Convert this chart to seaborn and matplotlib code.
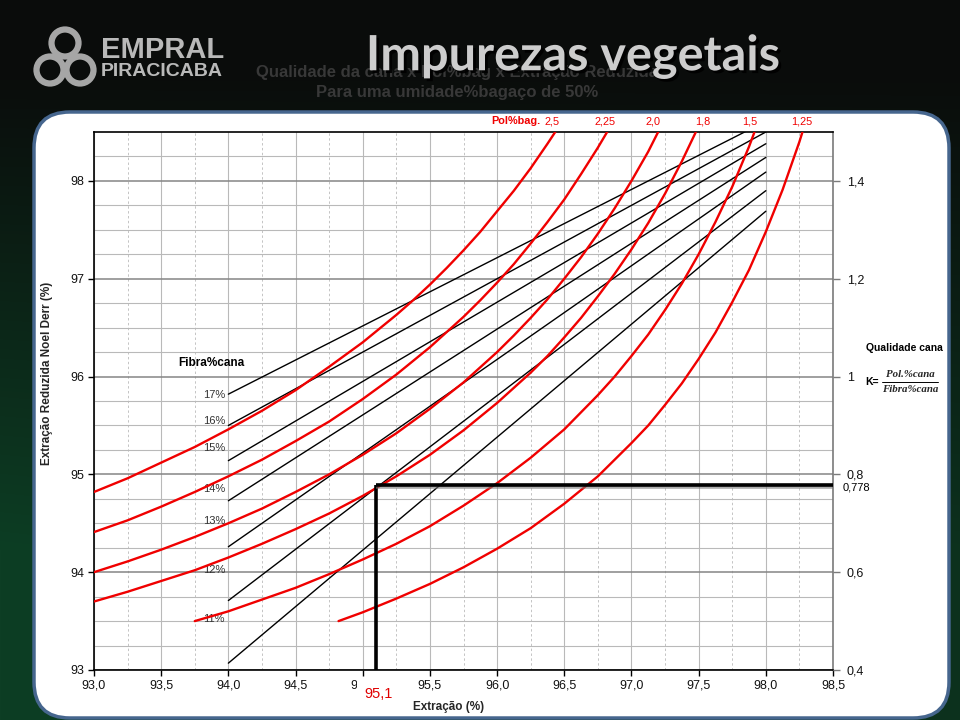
import numpy as np
import pandas as pd
import matplotlib
matplotlib.use('Agg')
import matplotlib.pyplot as plt
import matplotlib.patheffects as pe
from matplotlib.patches import FancyBboxPatch, Circle
import seaborn as sns

# ---- values ----
# red curves: constant Pol%bagaço, x = Extração (%), y = Extração reduzida (%)
pol_labels = ['2,5', '2,25', '2,0', '1,8', '1,5', '1,25']
pol_label_x = [96.41, 96.80, 97.16, 97.53, 97.88, 98.27]

red_x_25 = [93.0, 93.25, 93.5, 93.75, 94.0, 94.25, 94.5, 94.75, 95.0, 95.25, 95.375, 95.5, 95.625,
            95.75, 95.875, 96.0, 96.125, 96.25, 96.375, 96.5]
red_y_25 = [94.82, 94.96, 95.12, 95.28, 95.46, 95.65, 95.86, 96.10, 96.35, 96.63, 96.78, 96.94, 97.11,
            97.29, 97.48, 97.69, 97.90, 98.13, 98.38, 98.64]

red_x_225 = [93.0, 93.25, 93.5, 93.75, 94.0, 94.25, 94.5, 94.75, 95.0, 95.25, 95.5, 95.75, 95.875,
             96.0, 96.125, 96.25, 96.375, 96.5, 96.625, 96.75, 96.875]
red_y_225 = [94.41, 94.53, 94.67, 94.82, 94.98, 95.15, 95.34, 95.54, 95.77, 96.02, 96.30, 96.61, 96.78,
             96.96, 97.15, 97.36, 97.58, 97.81, 98.07, 98.34, 98.63]

red_x_20 = [93.0, 93.25, 93.5, 93.75, 94.0, 94.25, 94.5, 94.75, 95.0, 95.25, 95.5, 95.75, 96.0,
            96.125, 96.25, 96.375, 96.5, 96.625, 96.75, 96.875, 97.0, 97.125, 97.25]
red_y_20 = [94.00, 94.11, 94.23, 94.36, 94.50, 94.65, 94.82, 95.00, 95.20, 95.42, 95.67, 95.94, 96.25,
            96.42, 96.60, 96.79, 97.00, 97.22, 97.46, 97.72, 98.00, 98.30, 98.64]

red_x_18 = [93.0, 93.25, 93.5, 93.75, 94.0, 94.25, 94.5, 94.75, 95.0, 95.25, 95.5, 95.75, 96.0, 96.25,
            96.375, 96.5, 96.625, 96.75, 96.875, 97.0, 97.125, 97.25, 97.375, 97.5]
red_y_18 = [93.70, 93.80, 93.91, 94.02, 94.15, 94.29, 94.44, 94.60, 94.78, 94.98, 95.20, 95.45, 95.73, 96.04,
            96.21, 96.40, 96.60, 96.82, 97.05, 97.30, 97.57, 97.87, 98.20, 98.56]

red_x_15 = [93.75, 94.0, 94.25, 94.5, 94.75, 95.0, 95.25, 95.5, 95.75, 96.0, 96.25, 96.5, 96.75,
            96.875, 97.0, 97.125, 97.25, 97.375, 97.5, 97.625, 97.75, 97.875, 98.0]
red_y_15 = [93.50, 93.60, 93.72, 93.84, 93.98, 94.13, 94.29, 94.47, 94.68, 94.91, 95.17, 95.46, 95.81,
            96.00, 96.21, 96.43, 96.68, 96.95, 97.25, 97.58, 97.94, 98.35, 98.81]

red_x_125 = [94.82, 95.0, 95.25, 95.5, 95.75, 96.0, 96.25, 96.5, 96.75, 97.0, 97.125, 97.25, 97.375,
             97.5, 97.625, 97.75, 97.875, 98.0, 98.125, 98.25, 98.3]
red_y_125 = [93.50, 93.59, 93.73, 93.88, 94.05, 94.24, 94.45, 94.70, 94.98, 95.32, 95.50, 95.71, 95.93,
             96.18, 96.45, 96.76, 97.09, 97.48, 97.91, 98.40, 98.62]

red_x = [red_x_25, red_x_225, red_x_20, red_x_18, red_x_15, red_x_125]
red_y = [red_y_25, red_y_225, red_y_20, red_y_18, red_y_15, red_y_125]

# black lines: constant Fibra%cana, from Extração 94 to 98
fib_labels = ['17%', '16%', '15%', '14%', '13%', '12%', '11%']
fib_x = [94.0, 98.0]
fib_start = [95.82, 95.50, 95.14, 94.73, 94.26, 93.71, 93.07]
fib_end = [98.61, 98.50, 98.38, 98.24, 98.09, 97.90, 97.69]
fib_label_y = [95.81, 95.55, 95.27, 94.85, 94.52, 94.02, 93.52]

# example point
marker_ext = 95.1
marker_k = 0.778

# axes
x_ticks = [93.0, 93.5, 94.0, 94.5, 95.0, 95.5, 96.0, 96.5, 97.0, 97.5, 98.0, 98.5]
x_tick_labels = ['93,0', '93,5', '94,0', '94,5', '95,0', '95,5', '96,0', '96,5', '97,0', '97,5', '98,0', '98,5']
y_ticks = [93, 94, 95, 96, 97, 98]
y_tick_labels = ['93', '94', '95', '96', '97', '98']
k_ticks = [0.4, 0.6, 0.8, 1.0, 1.2, 1.4]
k_tick_labels = ['0,4', '0,6', '0,8', '1', '1,2', '1,4']

# ---- long tables for seaborn ----
rows = []
for lab, xs, ys in zip(pol_labels, red_x, red_y):
    for xv, yv in zip(xs, ys):
        rows.append({'pol': lab, 'ext': xv, 'red': yv})
df_red = pd.DataFrame(rows)

rows = []
for lab, y0, y1 in zip(fib_labels, fib_start, fib_end):
    rows.append({'fib': lab, 'ext': fib_x[0], 'red': y0})
    rows.append({'fib': lab, 'ext': fib_x[1], 'red': y1})
df_fib = pd.DataFrame(rows)

sns.set_theme(style='white')
plt.rcParams['font.family'] = ['Liberation Sans', 'DejaVu Sans']

fig = plt.figure(figsize=(9.6, 7.2), dpi=100)

# ---- slide background (pixel coordinates) ----
ax_bg = fig.add_axes([0, 0, 1, 1])
ax_bg.set_xlim(0, 960)
ax_bg.set_ylim(720, 0)
ax_bg.axis('off')
yy, xx = np.mgrid[0:720, 0:960]
t = np.clip((yy - 70) / 480, 0, 1) * (1 - 0.25 * xx / 960)
top_col = np.array([10, 12, 11]) / 255
bot_col = np.array([13, 62, 36]) / 255
img = top_col + (bot_col - top_col) * t[..., None]
ax_bg.imshow(img, extent=(0, 960, 720, 0), aspect='auto', zorder=0)

panel = FancyBboxPatch((34, 112), 915, 606, boxstyle='round,pad=0,rounding_size=36',
                       facecolor='white', edgecolor='#46668e', linewidth=2.5, zorder=1)
ax_bg.add_patch(panel)

# logo
for cx, cy in [(65, 43), (50, 70), (80, 70)]:
    ax_bg.add_patch(Circle((cx, cy), 13.5, fill=False, edgecolor='#a6a6a6', linewidth=4.5, zorder=2))
ax_bg.text(101, 50, 'EMPRAL', fontsize=21, fontweight='bold', color='#b9b9b9',
           ha='left', va='center', zorder=3)
ax_bg.text(101, 72, 'PIRACICABA', fontsize=14, fontweight='bold', color='#b9b9b9',
           ha='left', va='center', zorder=3)

# chart title hidden behind the slide title
ax_bg.text(457, 72, 'Qualidade da cana x Pol%bag x Extração Reduzida', fontsize=12,
           fontweight='bold', color='#383838', ha='center', va='center', zorder=2)
ax_bg.text(457, 92, 'Para uma umidade%bagaço de 50%', fontsize=12,
           fontweight='bold', color='#383838', ha='center', va='center', zorder=2)

ax_bg.text(573, 56, 'Impurezas vegetais', fontsize=35, fontweight='bold', family=['Lato', 'DejaVu Sans'],
           color='#cdcdcd', ha='center', va='center', zorder=4,
           path_effects=[pe.withSimplePatchShadow(offset=(2, -2), shadow_rgbFace='black', alpha=0.9)])

# right side annotation
ax_bg.text(866, 348, 'Qualidade cana', fontsize=7.5, fontweight='bold', color='black',
           ha='left', va='center', zorder=3)
ax_bg.text(865, 382, 'K=', fontsize=7.5, fontweight='bold', color='black',
           ha='left', va='center', zorder=3)
ax_bg.text(910, 374.5, 'Pol.%cana', fontsize=7.8, fontweight='bold', style='italic',
           family=['Liberation Serif', 'DejaVu Serif'], ha='center', va='center', zorder=3)
ax_bg.text(910, 389.5, 'Fibra%cana', fontsize=7.8, fontweight='bold', style='italic',
           family=['Liberation Serif', 'DejaVu Serif'], ha='center', va='center', zorder=3)
ax_bg.plot([882, 938], [381.5, 381.5], color='black', lw=0.7, zorder=3)

# ---- main chart ----
ax = fig.add_axes([94 / 960, 50 / 720, 739 / 960, 538 / 720])
ax.set_facecolor('white')
ax.set_axisbelow(True)

sns.lineplot(data=df_fib, x='ext', y='red', hue='fib', palette=dict.fromkeys(fib_labels, 'black'),
             estimator=None, legend=False, linewidth=1.0, ax=ax, zorder=3)
sns.lineplot(data=df_red, x='ext', y='red', hue='pol', palette=dict.fromkeys(pol_labels, '#f00000'),
             estimator=None, legend=False, linewidth=1.7, ax=ax, zorder=4)

ax.set_xlim(93, 98.5)
ax.set_ylim(93, 98.5)
ax.set_xticks(x_ticks)
ax.set_xticklabels(x_tick_labels)
ax.set_yticks(y_ticks)
ax.set_yticklabels(y_tick_labels)
ax.set_xticks(np.arange(93.25, 98.5, 0.5), minor=True)
ax.set_yticks(np.arange(93.25, 98.5, 0.25), minor=True)
ax.grid(which='major', axis='x', color='#b9b9b9', linewidth=0.8)
ax.grid(which='minor', axis='x', color='#c4c4c4', linewidth=0.7, linestyle=(0, (2.5, 2.5)))
ax.grid(which='major', axis='y', color='#858585', linewidth=1.1)
ax.grid(which='minor', axis='y', color='#b9b9b9', linewidth=0.8)
ax.tick_params(which='major', direction='out', length=4, width=1, color='black',
               labelsize=9, labelcolor='#111111', bottom=True, left=True, pad=3)
ax.tick_params(which='minor', length=0)
for side in ['left', 'bottom', 'top']:
    ax.spines[side].set_color('black')
    ax.spines[side].set_linewidth(1.2)
ax.spines['right'].set_color('#7a7a7a')
ax.spines['right'].set_linewidth(1.2)

ax.set_xlabel('Extração (%)', fontsize=8.5, fontweight='bold')
ax.xaxis.set_label_coords(0.480, -0.058)
ax.set_ylabel('Extração Reduzida Noel Derr (%)', fontsize=8.5, fontweight='bold')
ax.yaxis.set_label_coords(-0.055, 0.552)

# curve labels
ax.text(96.32, 98.61, 'Pol%bag.', fontsize=7.8, fontweight='bold', color='#f00000',
        ha='right', va='center', clip_on=False)
for lab, lx in zip(pol_labels, pol_label_x):
    ax.text(lx, 98.61, lab, fontsize=7.8, color='#f00000', ha='center', va='center', clip_on=False)

ax.text(93.87, 96.14, 'Fibra%cana', fontsize=8.5, fontweight='bold', color='black',
        ha='center', va='center')
for lab, ly in zip(fib_labels, fib_label_y):
    ax.text(93.975, ly, lab, fontsize=8, color='#333333', ha='right', va='center')

# right axis: qualidade da cana
ax2 = ax.twinx()
ax2.set_ylim(0.4, 1.5)
ax2.set_yticks(k_ticks)
ax2.set_yticklabels(k_tick_labels)
ax2.tick_params(axis='y', direction='out', length=5, width=1, color='#7a7a7a',
                labelsize=9, labelcolor='#111111', right=True, pad=5)
ax2.grid(False)
for s in ax2.spines.values():
    s.set_visible(False)

shadow = [pe.SimpleLineShadow(offset=(0, -1.5), shadow_color='#777777', alpha=0.6), pe.Normal()]
ax2.plot([marker_ext, marker_ext], [0.4, marker_k], color='black', lw=2.6,
         solid_capstyle='butt', zorder=6)
ax2.plot([marker_ext, 98.5], [marker_k, marker_k], color='black', lw=2.6,
         solid_capstyle='butt', zorder=6, path_effects=shadow)

ax2.annotate('0,778', xy=(1, marker_k), xycoords=('axes fraction', 'data'),
             xytext=(7, -2), textcoords='offset points', fontsize=8, color='black',
             ha='left', va='center', annotation_clip=False)
# the 95,1 label sits on top of the 95,0 tick label, as in the source
ax.annotate('95,1', xy=(marker_ext, 0), xycoords=('data', 'axes fraction'),
            xytext=(1.5, -17), textcoords='offset points', fontsize=10.5, color='#e00000',
            ha='center', va='center', annotation_clip=False, zorder=10,
            bbox=dict(boxstyle='square,pad=0.5', facecolor='white', edgecolor='none'))

fig.savefig('out.png', dpi=100)
